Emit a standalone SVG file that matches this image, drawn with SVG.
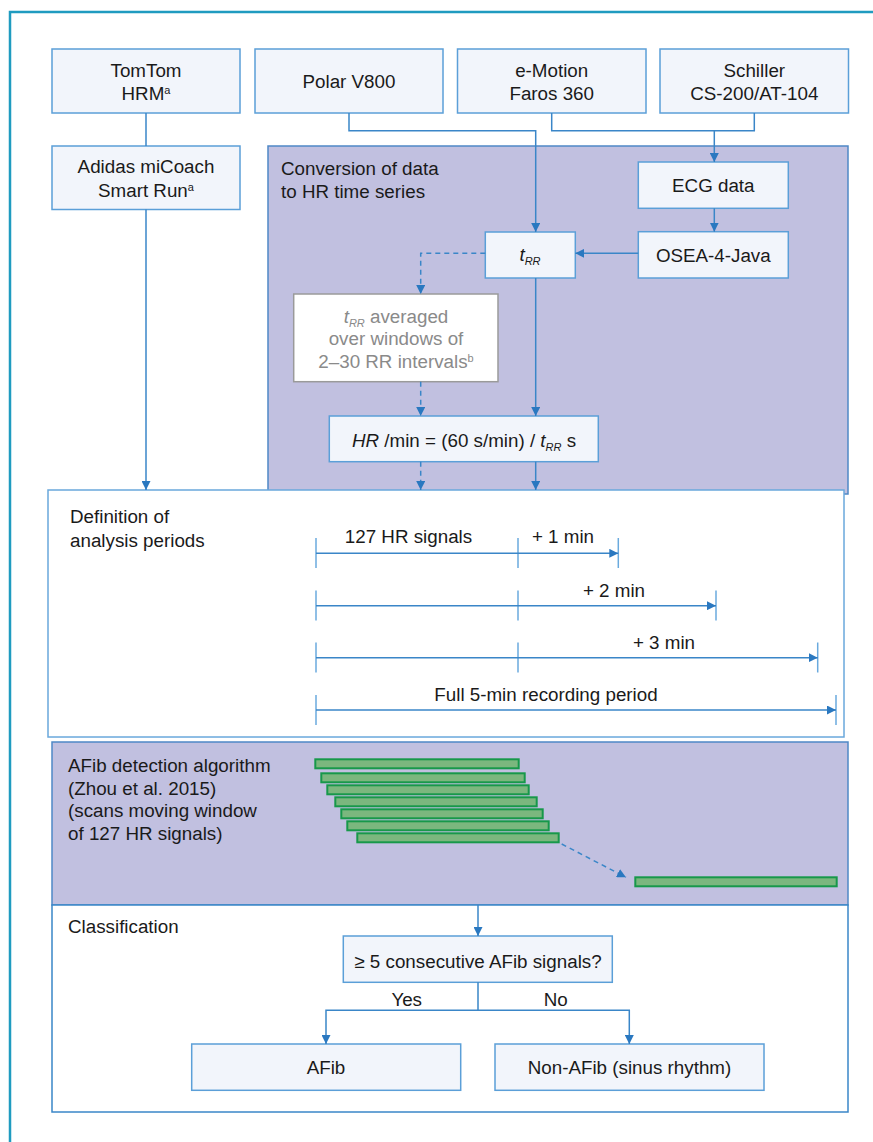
<svg xmlns="http://www.w3.org/2000/svg" width="873" height="1142" viewBox="0 0 873 1142">
<defs>
<style>
text{font-family:"Liberation Sans",Arial,sans-serif;font-size:18.8px;fill:#1a1a1a}
.c{text-anchor:middle}
.box{fill:#f2f5fb;stroke:#5b9fd8;stroke-width:1.5}
.panel{fill:#c1c0e0;stroke:#4f88c6;stroke-width:1.5}
.white{fill:#ffffff;stroke:#6aa8dc;stroke-width:1.5}
.ln{fill:none;stroke:#3a86c8;stroke-width:1.5}
.dash{fill:none;stroke:#3a86c8;stroke-width:1.5;stroke-dasharray:5,4}
.tick{stroke:#6aaade;stroke-width:1.5}
.bar{fill:#7bb77e;stroke:#17984a;stroke-width:2}
.gray{fill:#8a8a8a}
</style>
<marker id="ah" viewBox="0 0 10 10" refX="10" refY="5" markerWidth="9" markerHeight="9" markerUnits="userSpaceOnUse" orient="auto">
<path d="M0,0 L10,5 L0,10 Z" fill="#2a78c0"/>
</marker>
</defs>
<rect width="873" height="1142" fill="#ffffff"/>
<path d="M10,1142 V12 H873" fill="none" stroke="#1f9bc0" stroke-width="2.5"/>

<g id="conversion">
<rect class="panel" x="268" y="146" width="580" height="348"/>
<text x="281" y="174.5">Conversion of data</text>
<text x="281" y="198">to HR time series</text>
</g>

<g id="tomtom">
<rect class="box" x="52" y="49" width="188" height="64"/>
<text class="c" x="146" y="76.5">TomTom</text>
<text class="c" x="146" y="99.5">HRM<tspan font-size="11" dy="-6">a</tspan></text>
</g>
<g id="polar">
<rect class="box" x="255" y="49" width="188" height="64"/>
<text class="c" x="349" y="87.5">Polar V800</text>
</g>
<g id="emotion">
<rect class="box" x="457.5" y="49" width="188.5" height="64"/>
<text class="c" x="551.7" y="76.5">e-Motion</text>
<text class="c" x="551.7" y="99.5">Faros 360</text>
</g>
<g id="schiller">
<rect class="box" x="660" y="49" width="188.5" height="64"/>
<text class="c" x="754.3" y="76.5">Schiller</text>
<text class="c" x="754.3" y="99.5">CS-200/AT-104</text>
</g>
<g id="adidas">
<rect class="box" x="52" y="146" width="188" height="63.5"/>
<text class="c" x="146" y="173">Adidas miCoach</text>
<text class="c" x="146" y="196.5">Smart Run<tspan font-size="11" dy="-6">a</tspan></text>
</g>
<g id="ecg">
<rect class="box" x="638.3" y="162" width="150" height="46.3"/>
<text class="c" x="713.3" y="191.5">ECG data</text>
</g>
<g id="osea">
<rect class="box" x="638.3" y="231.7" width="150" height="46.3"/>
<text class="c" x="713.3" y="261.5">OSEA-4-Java</text>
</g>
<g id="trr">
<rect class="box" x="485.3" y="232" width="90" height="46"/>
<text class="c" x="530" y="261"><tspan font-style="italic">t</tspan><tspan font-style="italic" font-size="11" dy="4">RR</tspan></text>
</g>
<g id="averaged">
<rect x="293.7" y="294" width="204.3" height="87.7" fill="#ffffff" stroke="#9a9a9a" stroke-width="1.5"/>
<text class="c gray" x="396" y="323"><tspan class="gray" font-style="italic">t</tspan><tspan class="gray" font-style="italic" font-size="11" dy="4">RR</tspan><tspan class="gray" dy="-4"> averaged</tspan></text>
<text class="c gray" x="396" y="344.5">over windows of</text>
<text class="c gray" x="396" y="368">2–30 RR intervals<tspan class="gray" font-size="11" dy="-6">b</tspan></text>
</g>
<g id="hr">
<rect class="box" x="329.3" y="416" width="269" height="45.7"/>
<text class="c" x="464" y="446.5"><tspan font-style="italic">HR</tspan> /min = (60 s/min) / <tspan font-style="italic">t</tspan><tspan font-style="italic" font-size="11" dy="4">RR</tspan><tspan dy="-4"> s</tspan></text>
</g>

<g id="definition">
<rect class="white" x="48" y="490" width="796" height="247"/>
<text x="70" y="523">Definition of</text>
<text x="70" y="546.5">analysis periods</text>
<g id="timelines">
<line class="tick" x1="316" y1="538" x2="316" y2="568"/>
<line class="tick" x1="518" y1="538" x2="518" y2="568"/>
<line class="tick" x1="618.3" y1="538" x2="618.3" y2="568"/>
<line class="ln" x1="316" y1="553.3" x2="618.3" y2="553.3" marker-end="url(#ah)"/>
<text class="c" x="408.5" y="543">127 HR signals</text>
<text class="c" x="563" y="543">+ 1 min</text>

<line class="tick" x1="316" y1="590.5" x2="316" y2="620.5"/>
<line class="tick" x1="518" y1="590.5" x2="518" y2="620.5"/>
<line class="tick" x1="716" y1="590.5" x2="716" y2="620.5"/>
<line class="ln" x1="316" y1="605.7" x2="716" y2="605.7" marker-end="url(#ah)"/>
<text class="c" x="614" y="596.5">+ 2 min</text>

<line class="tick" x1="316" y1="642.5" x2="316" y2="672.5"/>
<line class="tick" x1="518" y1="642.5" x2="518" y2="672.5"/>
<line class="tick" x1="817.7" y1="642.5" x2="817.7" y2="672.5"/>
<line class="ln" x1="316" y1="657.7" x2="817.7" y2="657.7" marker-end="url(#ah)"/>
<text class="c" x="664" y="649">+ 3 min</text>

<line class="tick" x1="316" y1="695" x2="316" y2="725"/>
<line class="tick" x1="836" y1="695" x2="836" y2="725"/>
<line class="ln" x1="316" y1="710" x2="836" y2="710" marker-end="url(#ah)"/>
<text class="c" x="546" y="700.8">Full 5-min recording period</text>
</g>
</g>

<g id="afib-detection">
<rect class="panel" x="52" y="742" width="796" height="163"/>
<text x="68" y="771.5">AFib detection algorithm</text>
<text x="68" y="794.8">(Zhou et al. 2015)</text>
<text x="68" y="817.2">(scans moving window</text>
<text x="68" y="839.8">of 127 HR signals)</text>
<g id="windows">
<rect class="bar" x="315.3" y="759.3" width="203.4" height="9"/>
<rect class="bar" x="321.3" y="773.3" width="203.4" height="9"/>
<rect class="bar" x="327.3" y="785.3" width="201.4" height="9"/>
<rect class="bar" x="335.3" y="797.3" width="201.4" height="9"/>
<rect class="bar" x="341.3" y="809.3" width="201.4" height="9"/>
<rect class="bar" x="347.3" y="821.3" width="201.4" height="9"/>
<rect class="bar" x="357.3" y="833.3" width="201.4" height="9"/>
<rect class="bar" x="635.3" y="877.3" width="201.4" height="9"/>
</g>
</g>

<g id="classification">
<rect class="white" x="52" y="905" width="796" height="207" style="stroke:#3a86c8"/>
<text x="68" y="933">Classification</text>
</g>
<g id="question">
<rect class="box" x="343.3" y="936" width="269" height="46.3"/>
<text class="c" x="478" y="968">≥ 5 consecutive AFib signals?</text>
</g>
<g id="afib">
<rect class="box" x="191.7" y="1044" width="269" height="46.3"/>
<text class="c" x="326" y="1073.5">AFib</text>
</g>
<g id="nonafib">
<rect class="box" x="495" y="1044" width="269" height="46.3"/>
<text class="c" x="629.5" y="1073.5">Non-AFib (sinus rhythm)</text>
</g>

<g id="connectors">
<path class="ln" d="M146,113 V146"/>
<path class="ln" d="M146,209.5 V490" marker-end="url(#ah)"/>
<path class="ln" d="M349,113 V130.7 H535.7 V232" marker-end="url(#ah)"/>
<path class="ln" d="M551.7,113 V130.7 H754.3 V113"/>
<path class="ln" d="M714.3,130.7 V162" marker-end="url(#ah)"/>
<path class="ln" d="M714.3,208.3 V231.7" marker-end="url(#ah)"/>
<path class="ln" d="M638.3,253.3 H575.3" marker-end="url(#ah)"/>
<path class="dash" d="M485.3,253.3 H420.7 V294" marker-end="url(#ah)"/>
<path class="dash" d="M420.7,381.7 V416" marker-end="url(#ah)"/>
<path class="ln" d="M535.7,278 V416" marker-end="url(#ah)"/>
<path class="dash" d="M420.7,461.7 V490" marker-end="url(#ah)"/>
<path class="ln" d="M535.7,461.7 V490" marker-end="url(#ah)"/>
<path class="dash" d="M561.7,844 L626,877.3" stroke-dasharray="4,4" marker-end="url(#ah)"/>
<path class="ln" d="M478,905 V936" marker-end="url(#ah)"/>
<path class="ln" d="M478,982.3 V1010.3 H326 V1044" marker-end="url(#ah)"/>
<path class="ln" d="M478,1010.3 H629.3 V1044" marker-end="url(#ah)"/>
<text class="c" x="406.7" y="1006">Yes</text>
<text class="c" x="555.7" y="1006">No</text>
</g>
</svg>
